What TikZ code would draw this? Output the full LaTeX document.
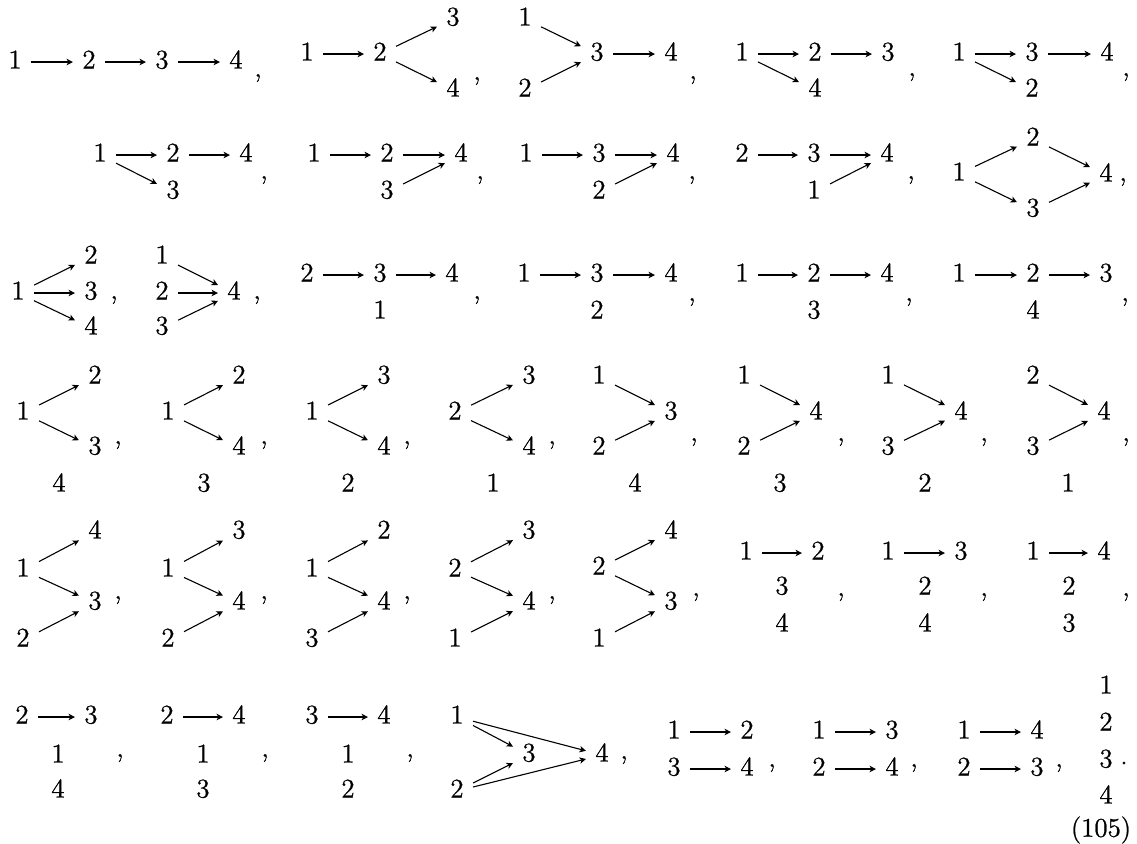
\documentclass[tikz,border=0pt]{standalone}
\usepackage{fontspec}
\setmainfont{Latin Modern Roman}[FakeBold=0.9]
\usetikzlibrary{arrows.meta}
\begin{document}
\begin{tikzpicture}[
  x=0.5pt, y=-0.5pt,
  font=\fontsize{13.5}{16}\selectfont,
  v/.style={inner sep=4.5pt, text height=0.65em, text depth=0pt},
  sep/.style={inner sep=0pt},
  arr/.style={-{Stealth[length=3.2pt,width=3.2pt,inset=0.9pt]}, line width=0.55pt}
]
% page frame in pixel units (y runs down)
\useasboundingbox (0,0) rectangle (1137,843);

% ---- Row 1 ----
% chain 1-2-3-4
\node[v] (d1v1) at (15,62) {1};
\node[v] (d1v2) at (89,62) {2};
\node[v] (d1v3) at (162,62) {3};
\node[v] (d1v4) at (236,62) {4};
\node[sep] (d1c) at (258,78) {,};
\foreach \a/\b in {1/2,2/3,3/4} \draw[arr] (d1v\a) -- (d1v\b);

\node[v] (d2v1) at (307,54) {1};
\node[v] (d2v2) at (380,54) {2};
\node[v] (d2v3) at (453,19) {3};
\node[v] (d2v4) at (453,90) {4};
\node[sep] (d2c) at (477,81) {,};
\foreach \a/\b in {1/2,2/3,2/4} \draw[arr] (d2v\a) -- (d2v\b);

\node[v] (d3v1) at (525,19) {1};
\node[v] (d3v2) at (525,90) {2};
\node[v] (d3v3) at (597,54) {3};
\node[v] (d3v4) at (671,54) {4};
\node[sep] (d3c) at (693,80) {,};
\foreach \a/\b in {1/3,2/3,3/4} \draw[arr] (d3v\a) -- (d3v\b);

\node[v] (d4v1) at (742,54) {1};
\node[v] (d4v2) at (815,54) {2};
\node[v] (d4v3) at (888,54) {3};
\node[v] (d4v4) at (815,90) {4};
\node[sep] (d4c) at (912,77) {,};
\foreach \a/\b in {1/2,2/3,1/4} \draw[arr] (d4v\a) -- (d4v\b);

\node[v] (d5v1) at (959,54) {1};
\node[v] (d5v3) at (1032,54) {3};
\node[v] (d5v4) at (1107,54) {4};
\node[v] (d5v2) at (1032,90) {2};
\node[sep] (d5c) at (1126,77) {,};
\foreach \a/\b in {1/3,3/4,1/2} \draw[arr] (d5v\a) -- (d5v\b);

% ---- Row 2 ----
\node[v] (d6v1) at (100,155) {1};
\node[v] (d6v2) at (173,155) {2};
\node[v] (d6v4) at (246,155) {4};
\node[v] (d6v3) at (173,192) {3};
\node[sep] (d6c) at (264,180) {,};
\foreach \a/\b in {1/2,2/4,1/3} \draw[arr] (d6v\a) -- (d6v\b);

\node[v] (d7v1) at (314,155) {1};
\node[v] (d7v2) at (387,155) {2};
\node[v] (d7v4) at (461,155) {4};
\node[v] (d7v3) at (387,192) {3};
\node[sep] (d7c) at (480,180) {,};
\foreach \a/\b in {1/2,2/4,3/4} \draw[arr] (d7v\a) -- (d7v\b);

\node[v] (d8v1) at (526,155) {1};
\node[v] (d8v3) at (599,155) {3};
\node[v] (d8v4) at (673,155) {4};
\node[v] (d8v2) at (599,192) {2};
\node[sep] (d8c) at (692,180) {,};
\foreach \a/\b in {1/3,3/4,2/4} \draw[arr] (d8v\a) -- (d8v\b);

\node[v] (d9v2) at (742,155) {2};
\node[v] (d9v3) at (814,155) {3};
\node[v] (d9v4) at (887,155) {4};
\node[v] (d9v1) at (814,192) {1};
\node[sep] (d9c) at (911,180) {,};
\foreach \a/\b in {2/3,3/4,1/4} \draw[arr] (d9v\a) -- (d9v\b);

% diamond
\node[v] (d10v1) at (959,174) {1};
\node[v] (d10v2) at (1033,139) {2};
\node[v] (d10v3) at (1033,210) {3};
\node[v] (d10v4) at (1106,175) {4};
\node[sep] (d10c) at (1123,182) {,};
\foreach \a/\b in {1/2,1/3,2/4,3/4} \draw[arr] (d10v\a) -- (d10v\b);

% ---- Row 3 ----
\node[v] (d11v1) at (18,293) {1};
\node[v] (d11v2) at (91,257) {2};
\node[v] (d11v3) at (91,293) {3};
\node[v] (d11v4) at (91,328) {4};
\node[sep] (d11c) at (114,300) {,};
\foreach \a/\b in {1/2,1/3,1/4} \draw[arr] (d11v\a) -- (d11v\b);

\node[v] (d12v1) at (162,257) {1};
\node[v] (d12v2) at (162,293) {2};
\node[v] (d12v3) at (162,328) {3};
\node[v] (d12v4) at (234,293) {4};
\node[sep] (d12c) at (257,300) {,};
\foreach \a/\b in {1/4,2/4,3/4} \draw[arr] (d12v\a) -- (d12v\b);

\node[v] (d13v2) at (307,275) {2};
\node[v] (d13v3) at (380,275) {3};
\node[v] (d13v4) at (452,275) {4};
\node[v] (d13v1) at (380,312) {1};
\node[sep] (d13c) at (477,300) {,};
\foreach \a/\b in {2/3,3/4} \draw[arr] (d13v\a) -- (d13v\b);

\node[v] (d14v1) at (524,275) {1};
\node[v] (d14v3) at (597,275) {3};
\node[v] (d14v4) at (671,275) {4};
\node[v] (d14v2) at (597,312) {2};
\node[sep] (d14c) at (692,302) {,};
\foreach \a/\b in {1/3,3/4} \draw[arr] (d14v\a) -- (d14v\b);

\node[v] (d15v1) at (742,275) {1};
\node[v] (d15v2) at (814,275) {2};
\node[v] (d15v4) at (887,275) {4};
\node[v] (d15v3) at (814,312) {3};
\node[sep] (d15c) at (909,302) {,};
\foreach \a/\b in {1/2,2/4} \draw[arr] (d15v\a) -- (d15v\b);

\node[v] (d16v1) at (959,275) {1};
\node[v] (d16v2) at (1033,275) {2};
\node[v] (d16v3) at (1106,275) {3};
\node[v] (d16v4) at (1033,312) {4};
\node[sep] (d16c) at (1125,302) {,};
\foreach \a/\b in {1/2,2/3} \draw[arr] (d16v\a) -- (d16v\b);

% ---- Row 4 ----
\node[v] (d17v1) at (23,413) {1};
\node[v] (d17v2) at (95,377) {2};
\node[v] (d17v3) at (95,448) {3};
\node[v] (d17v4) at (59,485) {4};
\node[sep] (d17c) at (118,445) {,};
\foreach \a/\b in {1/2,1/3} \draw[arr] (d17v\a) -- (d17v\b);

\node[v] (d18v1) at (168,413) {1};
\node[v] (d18v2) at (239,377) {2};
\node[v] (d18v4) at (239,448) {4};
\node[v] (d18v3) at (204,485) {3};
\node[sep] (d18c) at (264,445) {,};
\foreach \a/\b in {1/2,1/4} \draw[arr] (d18v\a) -- (d18v\b);

\node[v] (d19v1) at (312,413) {1};
\node[v] (d19v3) at (384,377) {3};
\node[v] (d19v4) at (384,448) {4};
\node[v] (d19v2) at (348,485) {2};
\node[sep] (d19c) at (407,445) {,};
\foreach \a/\b in {1/3,1/4} \draw[arr] (d19v\a) -- (d19v\b);

\node[v] (d20v2) at (455,413) {2};
\node[v] (d20v3) at (529,377) {3};
\node[v] (d20v4) at (529,448) {4};
\node[v] (d20v1) at (493,485) {1};
\node[sep] (d20c) at (552,445) {,};
\foreach \a/\b in {2/3,2/4} \draw[arr] (d20v\a) -- (d20v\b);

\node[v] (d21v1) at (599,377) {1};
\node[v] (d21v2) at (599,448) {2};
\node[v] (d21v3) at (671,413) {3};
\node[v] (d21v4) at (635,485) {4};
\node[sep] (d21c) at (694,442) {,};
\foreach \a/\b in {1/3,2/3} \draw[arr] (d21v\a) -- (d21v\b);

\node[v] (d22v1) at (744,377) {1};
\node[v] (d22v2) at (744,448) {2};
\node[v] (d22v4) at (816,413) {4};
\node[v] (d22v3) at (780,485) {3};
\node[sep] (d22c) at (841,442) {,};
\foreach \a/\b in {1/4,2/4} \draw[arr] (d22v\a) -- (d22v\b);

\node[v] (d23v1) at (888,377) {1};
\node[v] (d23v3) at (888,448) {3};
\node[v] (d23v4) at (961,413) {4};
\node[v] (d23v2) at (925,485) {2};
\node[sep] (d23c) at (984,442) {,};
\foreach \a/\b in {1/4,3/4} \draw[arr] (d23v\a) -- (d23v\b);

\node[v] (d24v2) at (1033,377) {2};
\node[v] (d24v3) at (1033,448) {3};
\node[v] (d24v4) at (1104,413) {4};
\node[v] (d24v1) at (1068,485) {1};
\node[sep] (d24c) at (1126,442) {,};
\foreach \a/\b in {2/4,3/4} \draw[arr] (d24v\a) -- (d24v\b);

% ---- Row 5 ----
\node[v] (d25v1) at (23,570) {1};
\node[v] (d25v4) at (95,532) {4};
\node[v] (d25v3) at (95,603) {3};
\node[v] (d25v2) at (23,640) {2};
\node[sep] (d25c) at (118,600) {,};
\foreach \a/\b in {1/4,1/3,2/3} \draw[arr] (d25v\a) -- (d25v\b);

\node[v] (d26v1) at (168,570) {1};
\node[v] (d26v3) at (239,532) {3};
\node[v] (d26v4) at (239,603) {4};
\node[v] (d26v2) at (168,640) {2};
\node[sep] (d26c) at (264,600) {,};
\foreach \a/\b in {1/3,1/4,2/4} \draw[arr] (d26v\a) -- (d26v\b);

\node[v] (d27v1) at (312,570) {1};
\node[v] (d27v2) at (384,532) {2};
\node[v] (d27v4) at (384,603) {4};
\node[v] (d27v3) at (312,640) {3};
\node[sep] (d27c) at (407,600) {,};
\foreach \a/\b in {1/2,1/4,3/4} \draw[arr] (d27v\a) -- (d27v\b);

\node[v] (d28v2) at (455,570) {2};
\node[v] (d28v3) at (529,532) {3};
\node[v] (d28v4) at (529,603) {4};
\node[v] (d28v1) at (455,640) {1};
\node[sep] (d28c) at (552,600) {,};
\foreach \a/\b in {2/3,2/4,1/4} \draw[arr] (d28v\a) -- (d28v\b);

\node[v] (d29v2) at (599,568) {2};
\node[v] (d29v4) at (671,532) {4};
\node[v] (d29v3) at (671,603) {3};
\node[v] (d29v1) at (599,640) {1};
\node[sep] (d29c) at (696,597) {,};
\foreach \a/\b in {2/4,2/3,1/3} \draw[arr] (d29v\a) -- (d29v\b);

\node[v] (d30v1) at (746,553) {1};
\node[v] (d30v2) at (818,553) {2};
\node[v] (d30v3) at (782,588) {3};
\node[v] (d30v4) at (782,625) {4};
\node[sep] (d30c) at (841,597) {,};
\draw[arr] (d30v1) -- (d30v2);

\node[v] (d31v1) at (888,553) {1};
\node[v] (d31v3) at (961,553) {3};
\node[v] (d31v2) at (925,588) {2};
\node[v] (d31v4) at (925,625) {4};
\node[sep] (d31c) at (984,597) {,};
\draw[arr] (d31v1) -- (d31v3);

\node[v] (d32v1) at (1033,553) {1};
\node[v] (d32v4) at (1104,553) {4};
\node[v] (d32v2) at (1069,588) {2};
\node[v] (d32v3) at (1069,625) {3};
\node[sep] (d32c) at (1126,597) {,};
\draw[arr] (d32v1) -- (d32v4);

% ---- Row 6 ----
\node[v] (d33v2) at (22,717) {2};
\node[v] (d33v3) at (91,717) {3};
\node[v] (d33v1) at (58,756) {1};
\node[v] (d33v4) at (58,791) {4};
\node[sep] (d33c) at (120,758) {,};
\draw[arr] (d33v2) -- (d33v3);

\node[v] (d34v2) at (167,717) {2};
\node[v] (d34v4) at (239,717) {4};
\node[v] (d34v1) at (203,756) {1};
\node[v] (d34v3) at (203,791) {3};
\node[sep] (d34c) at (265,758) {,};
\draw[arr] (d34v2) -- (d34v4);

\node[v] (d35v3) at (312,717) {3};
\node[v] (d35v4) at (384,717) {4};
\node[v] (d35v1) at (348,756) {1};
\node[v] (d35v2) at (348,791) {2};
\node[sep] (d35c) at (410,758) {,};
\draw[arr] (d35v3) -- (d35v4);

\node[v] (d36v1) at (457,717) {1};
\node[v] (d36v2) at (457,791) {2};
\node[v] (d36v3) at (529,755) {3};
\node[v] (d36v4) at (602,755) {4};
\node[sep] (d36c) at (624,760) {,};
\foreach \a/\b in {1/3,1/4,2/3,2/4} \draw[arr] (d36v\a) -- (d36v\b);

\node[v] (d37v1) at (674,732) {1};
\node[v] (d37v2) at (747,732) {2};
\node[v] (d37v3) at (674,769) {3};
\node[v] (d37v4) at (747,769) {4};
\node[sep] (d37c) at (772,768) {,};
\foreach \a/\b in {1/2,3/4} \draw[arr] (d37v\a) -- (d37v\b);

\node[v] (d38v1) at (819,732) {1};
\node[v] (d38v3) at (892,732) {3};
\node[v] (d38v2) at (819,769) {2};
\node[v] (d38v4) at (892,769) {4};
\node[sep] (d38c) at (914,768) {,};
\foreach \a/\b in {1/3,2/4} \draw[arr] (d38v\a) -- (d38v\b);

\node[v] (d39v1) at (964,732) {1};
\node[v] (d39v4) at (1037,732) {4};
\node[v] (d39v2) at (964,769) {2};
\node[v] (d39v3) at (1037,769) {3};
\node[sep] (d39c) at (1059,768) {,};
\foreach \a/\b in {1/4,2/3} \draw[arr] (d39v\a) -- (d39v\b);

% four isolated points
\node[v] (d40v1) at (1106,687) {1};
\node[v] (d40v2) at (1106,724) {2};
\node[v] (d40v3) at (1106,761) {3};
\node[v] (d40v4) at (1106,797) {4};
\node[sep] (d40p) at (1124,763) {.};

% equation number
\node[sep] (eqno) at (1101,830) {(105)};

\end{tikzpicture}
\end{document}
